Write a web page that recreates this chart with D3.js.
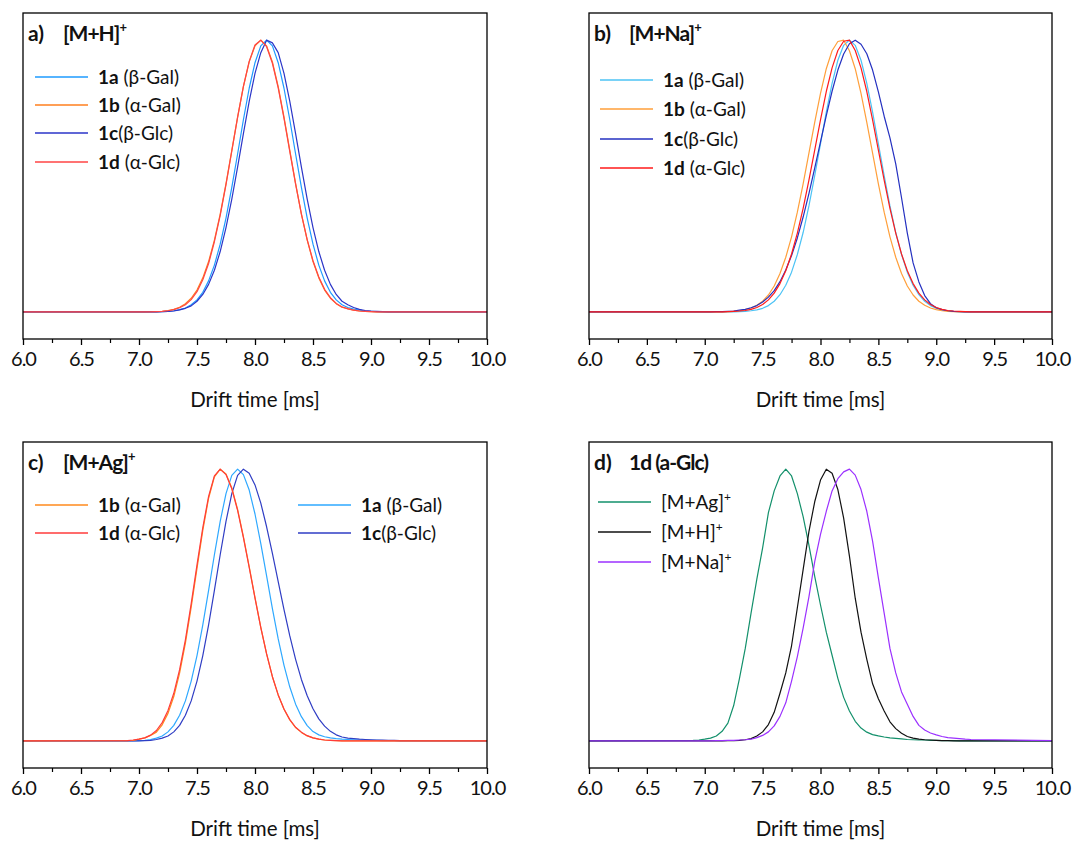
<!DOCTYPE html>
<html>
<head>
<meta charset="utf-8">
<script src="https://cdn.jsdelivr.net/npm/d3@7"></script>
<style>
body { margin: 0; background: #fff; }
svg text { font-family: Lato, "Noto Sans", sans-serif; fill: #111; }
</style>
</head>
<body>
<script>
// Arrival time distributions (normalised intensity) vs drift time [ms]

var driftTime = [6.0,
    6.90, 6.95, 7.00, 7.05, 7.10, 7.15, 7.20, 7.25, 7.30, 7.35,
    7.40, 7.45, 7.50, 7.55, 7.60, 7.65, 7.70, 7.75, 7.80, 7.85,
    7.90, 7.95, 8.00, 8.05, 8.10, 8.15, 8.20, 8.25, 8.30, 8.35,
    8.40, 8.45, 8.50, 8.55, 8.60, 8.65, 8.70, 8.75, 8.80, 8.85,
    8.90, 8.95, 9.00, 9.05, 9.10, 9.15, 9.20, 9.25, 9.30,
    10.0];

// a) [M+H]+
var aH_1a = [0,
    0, 0, 0, 0, 0, 0, 0.001, 0.002, 0.004, 0.008,
    0.014, 0.026, 0.044, 0.072, 0.114, 0.172, 0.249, 0.345, 0.458, 0.581,
    0.707, 0.823, 0.917, 0.979, 1.000, 0.979, 0.917, 0.823, 0.707, 0.581,
    0.458, 0.345, 0.249, 0.172, 0.114, 0.072, 0.044, 0.026, 0.016, 0.010,
    0.006, 0.003, 0.002, 0.001, 0, 0, 0, 0, 0,
    0];
var aH_1b = [0,
    0, 0, 0, 0, 0.001, 0.001, 0.002, 0.005, 0.009, 0.017,
    0.030, 0.050, 0.080, 0.125, 0.185, 0.264, 0.360, 0.472, 0.594, 0.717,
    0.829, 0.920, 0.979, 1.000, 0.979, 0.920, 0.829, 0.717, 0.594, 0.472,
    0.360, 0.264, 0.185, 0.125, 0.080, 0.050, 0.030, 0.017, 0.012, 0.006,
    0.003, 0.002, 0.001, 0, 0, 0, 0, 0, 0,
    0];
var aH_1c = [0,
    0, 0, 0, 0, 0, 0, 0.001, 0.002, 0.003, 0.007,
    0.013, 0.022, 0.039, 0.064, 0.101, 0.153, 0.222, 0.310, 0.415, 0.533,
    0.656, 0.775, 0.878, 0.954, 1.000, 0.990, 0.954, 0.878, 0.775, 0.656,
    0.533, 0.415, 0.310, 0.222, 0.153, 0.101, 0.064, 0.039, 0.026, 0.016,
    0.009, 0.005, 0.003, 0.002, 0.001, 0, 0, 0, 0,
    0];
var aH_1d = [0,
    0, 0, 0, 0, 0, 0.001, 0.002, 0.004, 0.008, 0.015,
    0.026, 0.045, 0.074, 0.118, 0.178, 0.258, 0.355, 0.468, 0.592, 0.716,
    0.830, 0.922, 0.982, 1.000, 0.976, 0.915, 0.824, 0.712, 0.590, 0.470,
    0.360, 0.266, 0.188, 0.128, 0.083, 0.052, 0.031, 0.018, 0.011, 0.006,
    0.003, 0.002, 0.001, 0, 0, 0, 0, 0, 0,
    0];

// b) [M+Na]+
var bNa_1a = [0,
    0, 0, 0, 0, 0, 0, 0, 0, 0.001, 0.002,
    0.004, 0.007, 0.013, 0.023, 0.039, 0.063, 0.098, 0.146, 0.211, 0.292,
    0.390, 0.501, 0.618, 0.735, 0.841, 0.926, 0.981, 1.000, 0.981, 0.926,
    0.841, 0.735, 0.618, 0.501, 0.390, 0.292, 0.211, 0.146, 0.098, 0.063,
    0.039, 0.023, 0.013, 0.007, 0.004, 0.002, 0.001, 0, 0,
    0];
var bNa_1b = [0,
    0, 0, 0, 0, 0, 0, 0.001, 0.002, 0.004, 0.008,
    0.014, 0.024, 0.039, 0.062, 0.095, 0.141, 0.201, 0.276, 0.367, 0.471,
    0.584, 0.697, 0.804, 0.895, 0.961, 0.995, 1.000, 0.961, 0.895, 0.804,
    0.697, 0.584, 0.471, 0.367, 0.276, 0.201, 0.141, 0.095, 0.062, 0.039,
    0.024, 0.014, 0.008, 0.004, 0.002, 0.001, 0, 0, 0,
    0];
var bNa_1c = [0,
    0, 0, 0, 0, 0.001, 0.001, 0.002, 0.003, 0.006, 0.009,
    0.015, 0.023, 0.036, 0.054, 0.078, 0.111, 0.154, 0.207, 0.272, 0.349,
    0.435, 0.529, 0.626, 0.722, 0.812, 0.890, 0.949, 0.987, 1.000, 0.985,
    0.950, 0.890, 0.810, 0.720, 0.640, 0.545, 0.420, 0.290, 0.180, 0.110,
    0.060, 0.030, 0.015, 0.008, 0.004, 0.002, 0.001, 0, 0,
    0];
var bNa_1d = [0,
    0, 0, 0, 0, 0, 0, 0.001, 0.002, 0.003, 0.005,
    0.009, 0.016, 0.027, 0.044, 0.069, 0.104, 0.151, 0.213, 0.290, 0.381,
    0.485, 0.595, 0.707, 0.811, 0.898, 0.962, 0.996, 1.000, 0.962, 0.898,
    0.811, 0.707, 0.595, 0.485, 0.381, 0.290, 0.213, 0.151, 0.104, 0.069,
    0.044, 0.027, 0.016, 0.009, 0.005, 0.003, 0.002, 0.001, 0,
    0];

// c) [M+Ag]+
var cAg_1a = [0,
    0, 0, 0.001, 0.002, 0.005, 0.010, 0.018, 0.033, 0.057, 0.094,
    0.147, 0.220, 0.314, 0.427, 0.554, 0.685, 0.808, 0.910, 0.977, 1.000,
    0.980, 0.923, 0.835, 0.726, 0.607, 0.487, 0.375, 0.278, 0.198, 0.135,
    0.089, 0.056, 0.034, 0.022, 0.015, 0.011, 0.008, 0.006, 0.005, 0.004,
    0.003, 0.003, 0.002, 0.002, 0.001, 0.001, 0.001, 0, 0,
    0];
var cAg_1b = [0,
    0.001, 0.002, 0.006, 0.011, 0.020, 0.032, 0.059, 0.101, 0.163, 0.249,
    0.360, 0.492, 0.635, 0.775, 0.893, 0.972, 1.000, 0.982, 0.931, 0.852,
    0.752, 0.641, 0.527, 0.418, 0.320, 0.236, 0.169, 0.116, 0.077, 0.049,
    0.031, 0.018, 0.011, 0.006, 0.003, 0.002, 0.001, 0, 0, 0,
    0, 0, 0, 0, 0, 0, 0, 0, 0,
    0];
var cAg_1c = [0,
    0, 0, 0, 0.001, 0.002, 0.005, 0.010, 0.018, 0.033, 0.057,
    0.094, 0.147, 0.220, 0.314, 0.427, 0.554, 0.685, 0.808, 0.910, 0.977,
    1.000, 0.985, 0.942, 0.875, 0.788, 0.690, 0.586, 0.483, 0.386, 0.300,
    0.226, 0.166, 0.118, 0.081, 0.054, 0.035, 0.022, 0.014, 0.010, 0.008,
    0.006, 0.005, 0.004, 0.003, 0.003, 0.002, 0.002, 0.001, 0.001,
    0];
var cAg_1d = [0,
    0.001, 0.003, 0.006, 0.011, 0.021, 0.038, 0.067, 0.112, 0.175, 0.262,
    0.372, 0.505, 0.648, 0.785, 0.900, 0.975, 1.000, 0.980, 0.928, 0.848,
    0.748, 0.638, 0.525, 0.417, 0.320, 0.236, 0.169, 0.117, 0.078, 0.050,
    0.032, 0.019, 0.011, 0.006, 0.003, 0.002, 0.001, 0, 0, 0,
    0, 0, 0, 0, 0, 0, 0, 0, 0,
    0];

// d) 1d with the three cations
var d1d_Ag = [0,
    0.002, 0.003, 0.006, 0.010, 0.018, 0.035, 0.065, 0.130, 0.230, 0.340,
    0.470, 0.595, 0.710, 0.840, 0.920, 0.975, 1.000, 0.975, 0.910, 0.825,
    0.720, 0.605, 0.500, 0.400, 0.315, 0.230, 0.160, 0.110, 0.072, 0.047,
    0.032, 0.023, 0.018, 0.014, 0.011, 0.009, 0.007, 0.005, 0.004, 0.003,
    0.003, 0.002, 0.002, 0.001, 0.001, 0.001, 0, 0, 0,
    0];
var d1d_H = [0,
    0, 0, 0, 0, 0, 0, 0.001, 0.001, 0.002, 0.004,
    0.008, 0.018, 0.033, 0.060, 0.105, 0.175, 0.250, 0.350, 0.490, 0.630,
    0.770, 0.880, 0.960, 1.000, 0.985, 0.925, 0.820, 0.680, 0.525, 0.400,
    0.300, 0.210, 0.155, 0.110, 0.070, 0.045, 0.028, 0.016, 0.010, 0.006,
    0.004, 0.003, 0.002, 0.001, 0.001, 0, 0, 0, 0,
    0];
var d1d_Na = [0,
    0, 0, 0, 0, 0.001, 0.001, 0.002, 0.002, 0.003, 0.004,
    0.006, 0.012, 0.020, 0.033, 0.055, 0.090, 0.140, 0.220, 0.310, 0.415,
    0.530, 0.660, 0.760, 0.845, 0.920, 0.965, 0.990, 1.000, 0.978, 0.925,
    0.845, 0.735, 0.600, 0.470, 0.340, 0.250, 0.180, 0.135, 0.090, 0.057,
    0.040, 0.029, 0.022, 0.016, 0.012, 0.010, 0.008, 0.006, 0.005,
    0.001];

var majorTicks = [6.0, 6.5, 7.0, 7.5, 8.0, 8.5, 9.0, 9.5, 10.0];
var minorTicks = [6.25, 6.75, 7.25, 7.75, 8.25, 8.75, 9.25, 9.75];
var axisTitle = "Drift time [ms]";

// Setup
var w = 1076;
var h = 841;

var svg = d3.select("body").append("svg")
    .attr("width", w)
    .attr("height", h);

var panels = [{
    tag: "a)", title: "[M+H]", sup: "+",
    x0: 23, x1: 487, top: 13, bottom: 339,
    series: [
        {bold: "1a", rest: " (β-Gal)", values: aH_1a, color: "#1e9bff", lx: 35, ly: 77},
        {bold: "1b", rest: " (α-Gal)", values: aH_1b, color: "#ff7f1e", lx: 35, ly: 105},
        {bold: "1c", rest: "(β-Glc)", values: aH_1c, color: "#2b35c8", lx: 35, ly: 133},
        {bold: "1d", rest: " (α-Glc)", values: aH_1d, color: "#ff4545", lx: 35, ly: 162}
    ]
}, {
    tag: "b)", title: "[M+Na]", sup: "+",
    x0: 589, x1: 1052, top: 13, bottom: 339,
    series: [
        {bold: "1a", rest: " (β-Gal)", values: bNa_1a, color: "#4cc3f5", lx: 600, ly: 80},
        {bold: "1b", rest: " (α-Gal)", values: bNa_1b, color: "#ff9f3a", lx: 600, ly: 109},
        {bold: "1c", rest: "(β-Glc)", values: bNa_1c, color: "#2430c0", lx: 600, ly: 139},
        {bold: "1d", rest: " (α-Glc)", values: bNa_1d, color: "#ff1a1a", lx: 600, ly: 168}
    ]
}, {
    tag: "c)", title: "[M+Ag]", sup: "+",
    x0: 23, x1: 487, top: 442, bottom: 768,
    series: [
        {bold: "1a", rest: " (β-Gal)", values: cAg_1a, color: "#2ea8ff", lx: 298, ly: 505},
        {bold: "1c", rest: "(β-Glc)", values: cAg_1c, color: "#2f3dc4", lx: 298, ly: 533},
        {bold: "1b", rest: " (α-Gal)", values: cAg_1b, color: "#ff8a1c", lx: 35, ly: 505},
        {bold: "1d", rest: " (α-Glc)", values: cAg_1d, color: "#ff3b3b", lx: 35, ly: 533}
    ]
}, {
    tag: "d)", title: "1d (a-Glc)", sup: "",
    x0: 589, x1: 1052, top: 442, bottom: 768,
    series: [
        {bold: "", rest: "[M+Ag]", sup: "+", values: d1d_Ag, color: "#13906b", lx: 598, ly: 502},
        {bold: "", rest: "[M+H]", sup: "+", values: d1d_H, color: "#111111", lx: 598, ly: 532},
        {bold: "", rest: "[M+Na]", sup: "+", values: d1d_Na, color: "#9b30ff", lx: 598, ly: 562}
    ]
}];

panels.forEach(function(p) {
    var g = svg.append("g");

    var x = d3.scaleLinear().domain([6, 10]).range([p.x0, p.x1]);
    var y = d3.scaleLinear().domain([-0.1, 1.1]).range([p.bottom, p.top]);

    var line = d3.line()
        .x(function(d, i) { return x(driftTime[i]); })
        .y(function(d) { return y(d); });

    // curves
    g.selectAll("path.trace")
        .data(p.series)
        .enter()
        .append("path")
        .attr("class", "trace")
        .attr("fill", "none")
        .attr("stroke", function(d) { return d.color; })
        .attr("stroke-width", 1.2)
        .attr("stroke-linejoin", "round")
        .attr("d", function(d) { return line(d.values); });

    // frame
    g.append("rect")
        .attr("x", p.x0)
        .attr("y", p.top)
        .attr("width", p.x1 - p.x0)
        .attr("height", p.bottom - p.top)
        .attr("fill", "none")
        .attr("stroke", "#000")
        .attr("stroke-width", 1.3);

    // bottom axis, major + minor ticks
    var major = g.append("g")
        .attr("transform", "translate(0," + p.bottom + ")")
        .call(d3.axisBottom(x).tickValues(majorTicks)
            .tickFormat(d3.format(".1f")).tickSize(6).tickPadding(7));
    major.select(".domain").remove();
    major.selectAll("line").attr("stroke-width", 1.3);
    major.selectAll("text")
        .attr("font-family", "Lato, 'Noto Sans', sans-serif")
        .attr("font-size", 20)
        .attr("letter-spacing", -1);

    var minor = g.append("g")
        .attr("transform", "translate(0," + p.bottom + ")")
        .call(d3.axisBottom(x).tickValues(minorTicks).tickFormat("").tickSize(4));
    minor.select(".domain").remove();
    minor.selectAll("line").attr("stroke-width", 1.2);

    g.append("text")
        .attr("x", (p.x0 + p.x1) / 2)
        .attr("y", p.bottom + 68)
        .attr("text-anchor", "middle")
        .attr("font-size", 20.5)
        .text(axisTitle);

    // panel title
    var t = g.append("text")
        .attr("x", p.x0 + 5)
        .attr("y", p.top + 28)
        .attr("font-size", 21)
        .attr("font-weight", "bold");
    t.append("tspan").text(p.tag);
    t.append("tspan").attr("x", p.x0 + 40).attr("letter-spacing", -1).text(p.title);
    if (p.sup) {
        t.append("tspan").attr("dy", -9).attr("font-size", 13).text(p.sup);
    }

    // legend
    var items = g.selectAll("g.legend")
        .data(p.series)
        .enter()
        .append("g")
        .attr("class", "legend");

    items.append("line")
        .attr("x1", function(d) { return d.lx; })
        .attr("x2", function(d) { return d.lx + 53; })
        .attr("y1", function(d) { return d.ly; })
        .attr("y2", function(d) { return d.ly; })
        .attr("stroke", function(d) { return d.color; })
        .attr("stroke-width", 1.3);

    var lt = items.append("text")
        .attr("x", function(d) { return d.lx + 63; })
        .attr("y", function(d) { return d.ly + 7; })
        .attr("font-size", 19);
    lt.append("tspan")
        .attr("font-weight", "bold")
        .text(function(d) { return d.bold; });
    lt.append("tspan")
        .text(function(d) { return d.rest; });
    lt.filter(function(d) { return d.sup; })
        .append("tspan")
        .attr("dy", -8)
        .attr("font-size", 12)
        .text(function(d) { return d.sup; });
});
</script>
</body>
</html>
